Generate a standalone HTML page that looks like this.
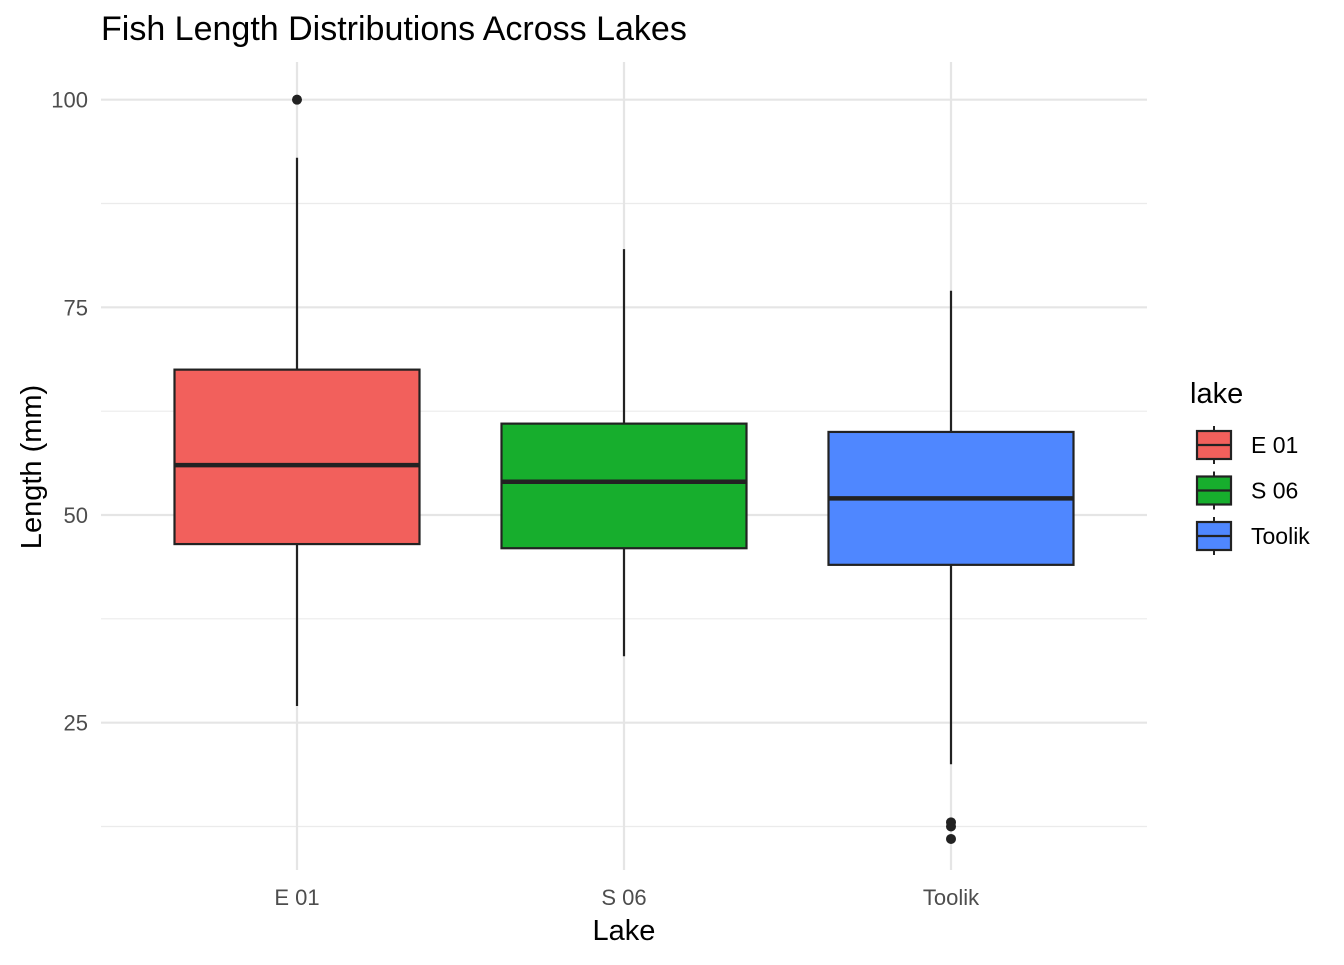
<!DOCTYPE html>
<html><head><meta charset="utf-8"><style>
body{margin:0;background:#fff;font-family:"Liberation Sans",Arial,sans-serif}
svg text{font-family:"Liberation Sans",Arial,sans-serif}
</style></head><body>
<svg id="chart" width="1344" height="960" xmlns="http://www.w3.org/2000/svg">
<text x="101" y="40" font-size="34" fill="#000">Fish Length Distributions Across Lakes</text>
<g id="grid"></g><g id="boxes"></g><g id="axes"></g><g id="legend"></g>
<text x="624" y="940" font-size="29" text-anchor="middle" fill="#000">Lake</text>
<text transform="translate(41,467) rotate(-90)" font-size="29" text-anchor="middle" fill="#000">Length (mm)</text>
</svg>
<script>
const categories=["E 01","S 06","Toolik"];
const fills=["#F2605C","#17AE2D","#4F87FF"];
const lowerWhisker=[27,33,20];
const q1=[46.5,46,44];
const median=[56,54,52];
const q3=[67.5,61,60];
const upperWhisker=[93,82,77];
const outliers=[[100],[],[13,12.5,11]];
const yTicks=[25,50,75,100];
const yMinor=[12.5,37.5,62.5,87.5];
const NS="http://www.w3.org/2000/svg";
const yScale=v=>515-(v-50)*8.3067;
const xScale=i=>297+i*327;
const bw=245;
const panelLeft=101,panelRight=1147,panelTop=62,panelBottom=870;
function mk(tag,attrs,parent){const e=document.createElementNS(NS,tag);for(const k in attrs)e.setAttribute(k,attrs[k]);parent.appendChild(e);return e;}
const grid=document.getElementById('grid'),boxes=document.getElementById('boxes'),axes=document.getElementById('axes'),legend=document.getElementById('legend');
yMinor.forEach(v=>{const l=mk('line',{x1:panelLeft,x2:panelRight,y1:yScale(v),y2:yScale(v),stroke:'#ebebeb','stroke-width':1.2},grid);

});
yTicks.forEach(v=>{const l=mk('line',{x1:panelLeft,x2:panelRight,y1:yScale(v),y2:yScale(v),stroke:'#e5e5e5','stroke-width':2.2},grid);


const t=mk('text',{x:88,y:yScale(v)+8,'font-size':22,'text-anchor':'end',fill:'#4d4d4d'},axes);t.textContent=v;

});
categories.forEach((c,i)=>{const l=mk('line',{x1:xScale(i),x2:xScale(i),y1:panelTop,y2:panelBottom,stroke:'#e5e5e5','stroke-width':2.2},grid);


const t=mk('text',{x:xScale(i),y:905,'font-size':22,'text-anchor':'middle',fill:'#4d4d4d'},axes);t.textContent=c;


const g=mk('g',{},boxes);


mk('line',{x1:xScale(i),x2:xScale(i),y1:yScale(upperWhisker[i]),y2:yScale(q3[i]),stroke:'#222','stroke-width':2.2},g);
mk('line',{x1:xScale(i),x2:xScale(i),y1:yScale(q1[i]),y2:yScale(lowerWhisker[i]),stroke:'#222','stroke-width':2.2},g);
mk('rect',{x:xScale(i)-bw/2,y:yScale(q3[i]),width:bw,height:yScale(q1[i])-yScale(q3[i]),fill:fills[i],stroke:'#222','stroke-width':2.2},g);
mk('line',{x1:xScale(i)-bw/2,x2:xScale(i)+bw/2,y1:yScale(median[i]),y2:yScale(median[i]),stroke:'#222','stroke-width':4.5},g);
outliers[i].forEach(o=>{const p=mk('circle',{cx:xScale(i),cy:yScale(o),r:5,fill:'#222'},g);

});
});
const lt=mk('text',{x:1190,y:403,'font-size':29,fill:'#000'},legend);lt.textContent='lake';


categories.forEach((c,i)=>{const cy=445+i*45.5;const g=mk('g',{},legend);


mk('line',{x1:1214,x2:1214,y1:cy-19,y2:cy+19,stroke:'#222','stroke-width':2},g);
mk('rect',{x:1197,y:cy-14,width:34,height:28,fill:fills[i],stroke:'#222','stroke-width':2.2},g);
mk('line',{x1:1197,x2:1231,y1:cy,y2:cy,stroke:'#222','stroke-width':2.2},g);
const t=mk('text',{x:1251,y:cy+8,'font-size':23,fill:'#000'},g);t.textContent=c;});
</script>
</body></html>
